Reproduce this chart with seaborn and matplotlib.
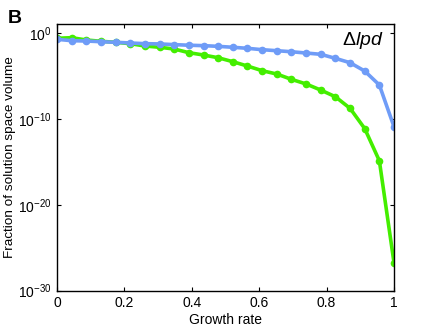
import numpy as np
import pandas as pd
import matplotlib
matplotlib.use("Agg")
import matplotlib.pyplot as plt
import seaborn as sns

# growth rate grid (24 points from 0 to 1)
growth = np.linspace(0, 1, 24)

# log10 of fraction of solution space volume
log_blue = [-0.70, -0.86, -0.90, -0.98, -1.05, -1.13, -1.21, -1.24, -1.32, -1.39,
            -1.44, -1.52, -1.63, -1.75, -1.91, -2.03, -2.15, -2.30, -2.45, -2.92,
            -3.43, -4.40, -6.03, -10.90]
log_green = [-0.58, -0.51, -0.78, -0.93, -1.05, -1.21, -1.48, -1.63, -1.83, -2.26,
             -2.53, -2.85, -3.31, -3.82, -4.36, -4.75, -5.37, -5.91, -6.62, -7.40,
             -8.75, -11.11, -14.87, -26.77]

df = pd.DataFrame({
    'growth': growth,
    'blue': 10.0 ** np.array(log_blue),
    'green': 10.0 ** np.array(log_green),
})

sns.set_style("ticks")
plt.rcParams['font.family'] = ['Liberation Sans', 'DejaVu Sans']
plt.rcParams['mathtext.fontset'] = 'custom'
plt.rcParams['mathtext.rm'] = 'Liberation Sans'
plt.rcParams['mathtext.it'] = 'Liberation Sans:italic'
plt.rcParams['mathtext.bf'] = 'Liberation Sans:bold'
plt.rcParams['text.color'] = 'black'
plt.rcParams['axes.labelcolor'] = 'black'

fig = plt.figure(figsize=(4.36, 3.28), dpi=100)
ax = fig.add_axes([0.1307, 0.1143, 0.773, 0.8116])

sns.lineplot(data=df, x='growth', y='green', ax=ax, color='#44ee00', linewidth=2.6,
             marker='o', markersize=5.5, markeredgewidth=0)
sns.lineplot(data=df, x='growth', y='blue', ax=ax, color='#6f9cf7', linewidth=2.6,
             marker='o', markersize=5.5, markeredgewidth=0)

ax.set_yscale('log')
ax.set_ylim(1e-30, 10 ** 1.05)
ax.set_xlim(0, 1)
ax.set_yticks([1e-30, 1e-20, 1e-10, 1e0])
ax.yaxis.set_minor_locator(matplotlib.ticker.NullLocator())
ax.set_xticks([0, 0.2, 0.4, 0.6, 0.8, 1])
ax.set_xticklabels(['0', '0.2', '0.4', '0.6', '0.8', '1'])

ax.tick_params(direction='in', top=True, right=True, labelsize=10, length=3,
               width=0.8, pad=4, colors='black')
for s in ax.spines.values():
    s.set_linewidth(1.0)
    s.set_color('black')

ax.set_xlabel('Growth rate', fontsize=10, labelpad=2)
ax.set_ylabel('Fraction of solution space volume', fontsize=9.7)
ax.yaxis.set_label_coords(-0.121, 0.5)

ax.text(0.97, 0.94, r'$\Delta lpd$', transform=ax.transAxes, ha='right', va='center',
        fontsize=14)
fig.text(0.018, 0.945, 'B', fontsize=14, fontweight='bold', va='center', ha='left')

fig.savefig('out.png', dpi=100)
